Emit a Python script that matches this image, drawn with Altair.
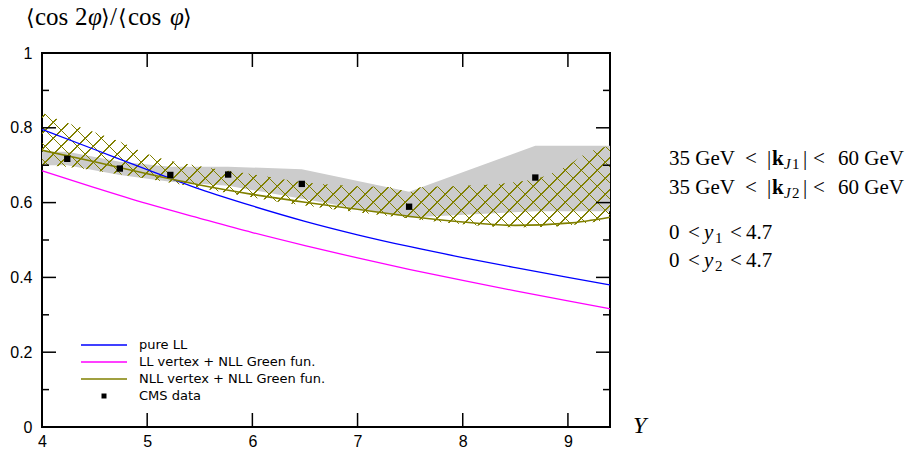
import altair as alt
import pandas as pd

# ---------------- data ----------------
Y_grid = [4.0, 4.5, 5.0, 5.5, 6.0, 6.5, 7.0, 7.5, 8.0, 8.5, 9.0, 9.4]
pure_ll = [0.796, 0.742, 0.688, 0.636, 0.591, 0.550, 0.514, 0.482, 0.453, 0.426, 0.400, 0.380]
ll_vertex_nll = [0.685, 0.640, 0.597, 0.558, 0.520, 0.485, 0.452, 0.421, 0.392, 0.364, 0.337, 0.316]
nll_vertex_nll = [0.740, 0.709, 0.677, 0.647, 0.622, 0.601, 0.582, 0.563, 0.548, 0.539, 0.545, 0.561]

hatch_Y = [4.0, 4.25, 4.5, 4.75, 5.0, 5.5, 6.0, 6.5, 7.0, 7.35, 7.48, 7.6, 8.0, 8.5, 8.75, 9.0, 9.2, 9.4]
hatch_hi = [0.840, 0.812, 0.788, 0.762, 0.730, 0.697, 0.676, 0.654, 0.644, 0.641, 0.627, 0.641, 0.645, 0.655, 0.668, 0.700, 0.735, 0.752]
hatch_lo = [0.700, 0.695, 0.686, 0.675, 0.664, 0.640, 0.614, 0.592, 0.574, 0.562, 0.558, 0.554, 0.542, 0.534, 0.535, 0.539, 0.546, 0.555]

cms_Y = [4.24, 4.74, 5.22, 5.77, 6.47, 7.49, 8.69]
cms_val = [0.717, 0.691, 0.674, 0.675, 0.650, 0.589, 0.667]
cms_hi = [0.736, 0.709, 0.696, 0.696, 0.689, 0.629, 0.752]
cms_lo = [0.700, 0.674, 0.656, 0.645, 0.610, 0.560, 0.577]

x_domain = [4, 9.4]
y_domain = [0, 1]
x_major = [4, 5, 6, 7, 8, 9]
y_major = [0, 0.2, 0.4, 0.6, 0.8, 1.0]
y_minor = [0.1, 0.3, 0.5, 0.7, 0.9]

legend_labels = ["pure LL", "LL vertex + NLL Green fun.", "NLL vertex + NLL Green fun.", "CMS data"]

# ---------------- layout ----------------
W, H = 568, 374
PL, PT = 42, 53
OLIVE = "#808000"

xs = alt.Scale(domain=x_domain, nice=False, zero=False)
ys = alt.Scale(domain=y_domain, nice=False, zero=False)

x_axis = alt.Axis(values=x_major, ticks=False, domain=False, grid=False, title=None,
                  labelPadding=6, labelFlush=False)
y_axis = alt.Axis(values=y_major, format=".1~f", ticks=False, domain=False, grid=False, title=None,
                  labelPadding=10, labelFlush=False)


def X(field):
    return alt.X(f"{field}:Q", scale=xs, axis=x_axis)


def Yc(field):
    return alt.Y(f"{field}:Q", scale=ys, axis=y_axis)


df_curves = pd.DataFrame({"Y": Y_grid, "pure": pure_ll, "llv": ll_vertex_nll, "nll": nll_vertex_nll})
df_hatch = pd.DataFrame({"Y": hatch_Y, "hi": hatch_hi, "lo": hatch_lo})
df_cms = pd.DataFrame({"Y": cms_Y, "v": cms_val})
# error band of the data, held flat out to the edges of the plot
df_band = pd.DataFrame({
    "Y": [x_domain[0]] + cms_Y + [x_domain[1]],
    "hi": [cms_hi[0]] + cms_hi + [cms_hi[-1]],
    "lo": [cms_lo[0]] + cms_lo + [cms_lo[-1]],
})

# ---- cross-hatch via striped linear gradients (objectBoundingBox units) ----
Wb = (hatch_Y[-1] - hatch_Y[0]) / (x_domain[1] - x_domain[0]) * W
Hb = (max(hatch_hi) - min(hatch_lo)) / (y_domain[1] - y_domain[0]) * H
a = (Wb + Hb) / (Wb + Hb * Hb / Wb)
b = a * Hb / Wb
L = Wb + Hb
P, LW = 16.0, 1.25
clear = "rgba(128,128,0,0)"
stops = []
pos = 4.0
while pos + LW < L:
    t0, t1 = pos / L, (pos + LW) / L
    stops += [{"offset": t0, "color": clear}, {"offset": t0, "color": OLIVE},
              {"offset": t1, "color": OLIVE}, {"offset": t1, "color": clear}]
    pos += P
stops = [{"offset": 0, "color": clear}] + stops + [{"offset": 1, "color": clear}]
gradA = {"gradient": "linear", "x1": 0, "y1": 0, "x2": a, "y2": b, "stops": stops}
gradB = {"gradient": "linear", "x1": 0, "y1": 1, "x2": a, "y2": 1 - b, "stops": stops}

band = alt.Chart(df_band).mark_area(color="#cccccc", opacity=1).encode(
    x=X("Y"), y=Yc("hi"), y2="lo:Q")
hatchA = alt.Chart(df_hatch).mark_area(fill=gradA, opacity=1, interpolate="monotone").encode(
    x=X("Y"), y=Yc("hi"), y2="lo:Q")
hatchB = alt.Chart(df_hatch).mark_area(fill=gradB, opacity=1, interpolate="monotone").encode(
    x=X("Y"), y=Yc("hi"), y2="lo:Q")


def curve(field, color, width):
    return alt.Chart(df_curves).mark_line(color=color, strokeWidth=width, interpolate="monotone").encode(
        x=X("Y"), y=Yc(field))


l_pure = curve("pure", "#0000ff", 1.3)
l_llv = curve("llv", "#ff00ff", 1.3)
l_nll = curve("nll", OLIVE, 1.6)

pts = alt.Chart(df_cms).mark_point(shape="square", filled=True, size=40, color="black", opacity=1).encode(
    x=X("Y"), y=Yc("v"))

# ---- inward ticks on all four sides ----
tick_style = dict(color="black", strokeWidth=1.5)
df_xt = pd.DataFrame({"v": x_major})
df_yM = pd.DataFrame({"v": y_major})
df_ym = pd.DataFrame({"v": y_minor})
ticks = [
    alt.Chart(df_xt).mark_rule(**tick_style).encode(x=X("v"), y=alt.value(H), y2=alt.value(H - 14)),
    alt.Chart(df_xt).mark_rule(**tick_style).encode(x=X("v"), y=alt.value(0), y2=alt.value(14)),
    alt.Chart(df_yM).mark_rule(**tick_style).encode(y=Yc("v"), x=alt.value(0), x2=alt.value(14)),
    alt.Chart(df_yM).mark_rule(**tick_style).encode(y=Yc("v"), x=alt.value(W - 14), x2=alt.value(W)),
    alt.Chart(df_ym).mark_rule(**tick_style).encode(y=Yc("v"), x=alt.value(0), x2=alt.value(7)),
    alt.Chart(df_ym).mark_rule(**tick_style).encode(y=Yc("v"), x=alt.value(W - 7), x2=alt.value(W)),
]

dummy = pd.DataFrame({"d": [0]})


def txt(s, x, y, size=21, font="Liberation Serif", style="normal", weight="normal", baseline="alphabetic"):
    return alt.Chart(dummy).mark_text(text=s, align="left", baseline=baseline, font=font, fontSize=size,
                                      fontStyle=style, fontWeight=weight, color="black").encode(
        x=alt.value(x - PL), y=alt.value(y - PT))


texts = []
# y-axis title  <cos 2phi>/<cos phi>
for s, x, st, sz in [("⟨", 26, "normal", 22), ("cos", 35, "normal", 25), ("2", 75, "normal", 25),
                     ("φ", 88, "italic", 25), ("⟩", 101, "normal", 22), ("/", 110, "normal", 25),
                     ("⟨", 118, "normal", 22), ("cos", 128, "normal", 25), ("φ", 170, "italic", 25),
                     ("⟩", 183, "normal", 22)]:
    texts.append(txt(s, x, 25, size=sz, style=st))
# x-axis title
texts.append(txt("Y", 633, 433, size=24, style="italic"))

# kinematic cuts
for base, sub in [(165, "1"), (194, "2")]:
    texts += [
        txt("35 GeV", 669, base), txt("<", 745, base), txt("|", 767, base),
        txt("k", 772, base, weight="bold"), txt("J", 784, base + 4, size=15, style="italic"),
        txt(sub, 792, base + 4, size=15), txt("|", 803, base), txt("<", 813, base), txt("60 GeV", 838, base),
    ]
for base, sub in [(239, "1"), (267, "2")]:
    texts += [
        txt("0", 669, base), txt("<", 688, base), txt("y", 704, base, style="italic"),
        txt(sub, 715, base + 4, size=15), txt("<", 730, base), txt("4.7", 746, base),
    ]

# legend (drawn by hand inside the plot)
leg_rows = [345, 362, 379, 396]
leg_colors = ["#0000ff", "#ff00ff", OLIVE]
for row, col in zip(leg_rows[:3], leg_colors):
    texts.append(alt.Chart(dummy).mark_rule(color=col, strokeWidth=1.5).encode(
        x=alt.value(81 - PL), x2=alt.value(127 - PL), y=alt.value(row - PT)))
texts.append(alt.Chart(dummy).mark_point(shape="square", filled=True, size=25, color="black", opacity=1).encode(
    x=alt.value(104 - PL), y=alt.value(leg_rows[3] - PT)))
for row, lab in zip(leg_rows, legend_labels):
    texts.append(txt(lab, 139, row, size=13, font="DejaVu Sans", baseline="middle"))

chart = alt.layer(band, hatchA, hatchB, l_pure, l_llv, l_nll, pts, *ticks, *texts).properties(
    width=W, height=H,
    background="white",
    autosize=alt.AutoSizeParams(type="none"),
    padding={"left": PL, "top": PT, "right": 908 - PL - W, "bottom": 450 - PT - H},
).configure_view(stroke="black", strokeWidth=2).configure_axis(
    labelFont="Liberation Sans", labelFontSize=16, labelColor="black"
)

chart.save("out.html", embed_options={"renderer": "svg", "actions": False})
